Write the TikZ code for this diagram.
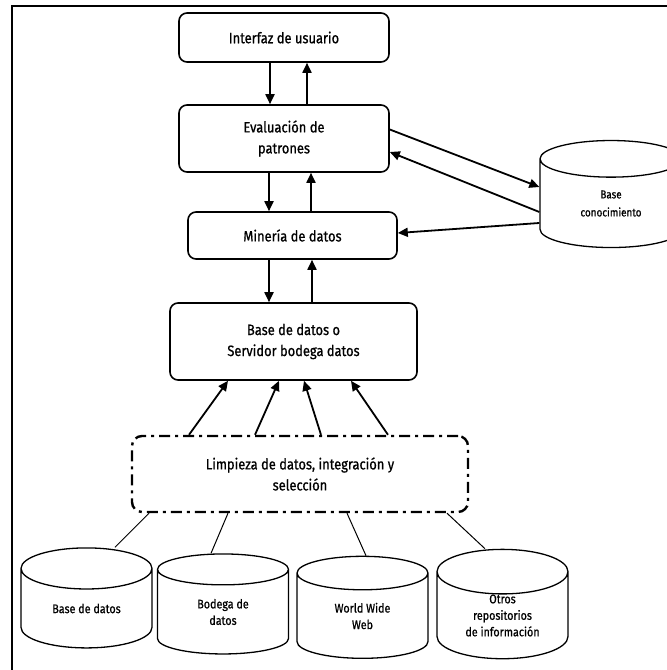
\documentclass[tikz,border=0pt]{standalone}
\usepackage{fontspec}
\setmainfont{Fira Sans}[FakeStretch=0.86, FakeBold=0.8]
\usetikzlibrary{shapes.geometric,arrows.meta,calc}

\begin{document}
\begin{tikzpicture}[
  x=1pt, y=-1pt,
  box/.style={rectangle, draw, line width=1.6pt, rounded corners=8pt, align=center, font=\fontsize{15}{21}\selectfont, inner sep=0pt},
  arrow/.style={-{Triangle[length=10pt, width=9pt]}, line width=1.8pt},
  cyl/.style={cylinder, shape border rotate=90, draw, line width=1.3pt, aspect=0.6, align=center, font=\fontsize{12.5}{16.5}\selectfont, inner sep=0pt, minimum width=131pt},
  link/.style={line width=1pt},
]
\clip (0,0) rectangle (667,670);

% frame
\draw[line width=1.6pt] (12,670) -- (12,6) -- (667,6);

% === MAIN STACK ===
\node[box, minimum width=210pt, minimum height=49pt] (ui) at (284, 37.5) {Interfaz de usuario};
\node[box, minimum width=210pt, minimum height=67pt] (eval) at (284, 138.5) {Evaluación de\\patrones};
\node[box, minimum width=209pt, minimum height=47pt] (mine) at (292.5, 235.5) {Minería de datos};
\node[box, minimum width=247pt, minimum height=77pt] (db) at (293.5, 341.5) {Base de datos o\\Servidor bodega datos};
\node[box, minimum width=336pt, minimum height=76pt, line width=2.4pt, rounded corners=10pt,
      dash pattern=on 11pt off 5pt on 3pt off 5pt] (limp) at (300, 474) {Limpieza de datos, integración y\\selección};

% knowledge base
\node[cyl, minimum width=142pt, minimum height=107pt, font=\fontsize{11.5}{18}\selectfont] (kb) at (611, 203.5) {Base\\conocimiento};

% sources
\node[cyl, minimum height=100pt] (c1) at (86.5, 608.5) {Base de datos};
\node[cyl, minimum height=100pt] (c2) at (223, 612) {Bodega de\\datos};
\node[cyl, minimum height=102pt] (c3) at (362.5, 616) {World Wide\\Web};
\node[cyl, minimum height=104pt] (c4) at (502.5, 615.5) {Otros\\repositorios\\de información};

% up and down
\draw[arrow] ([xshift=-14pt]ui.south) -- ([xshift=-14pt]ui.south |- eval.north);
\draw[arrow] ([xshift=23pt]eval.north) -- ([xshift=23pt]eval.north |- ui.south);
\draw[arrow] ([xshift=-15pt]eval.south) -- ([xshift=-15pt]eval.south |- mine.north);
\draw[arrow] ([xshift=27pt]eval.south |- mine.north) -- ([xshift=27pt]eval.south);
\draw[arrow] ([xshift=-23.5pt]mine.south) -- ([xshift=-23.5pt]mine.south |- db.north);
\draw[arrow] ([xshift=19.5pt]mine.south |- db.north) -- ([xshift=19.5pt]mine.south);

% knowledge base links
\draw[arrow] ([yshift=9pt]eval.east) -- ([yshift=16.5pt]kb.west);
\draw[arrow] ([yshift=-8.5pt]kb.west) -- ([yshift=-13.5pt]eval.east);
\draw[arrow] ([yshift=-19.5pt]kb.west) -- ([yshift=2.5pt]mine.east);

% cleaning -> warehouse
\draw[arrow] ([xshift=-111pt]limp.north) -- ([xshift=-65.5pt]db.south);
\draw[arrow] ([xshift=-45pt]limp.north) -- ([xshift=-14.5pt]db.south);
\draw[arrow] ([xshift=21pt]limp.north) -- ([xshift=10.5pt]db.south);
\draw[arrow] ([xshift=88pt]limp.north) -- ([xshift=57.5pt]db.south);

% sources -> cleaning
\draw[link] ([xshift=-151pt]limp.south) -- ([xshift=28.5pt]c1.north);
\draw[link] ([xshift=-72pt]limp.south) -- ([xshift=-12pt]c2.north);
\draw[link] ([xshift=47pt]limp.south) -- ([xshift=3.5pt]c3.north);
\draw[link] ([xshift=147pt]limp.south) -- ([xshift=-17.5pt]c4.north);
\end{tikzpicture}
\end{document}
